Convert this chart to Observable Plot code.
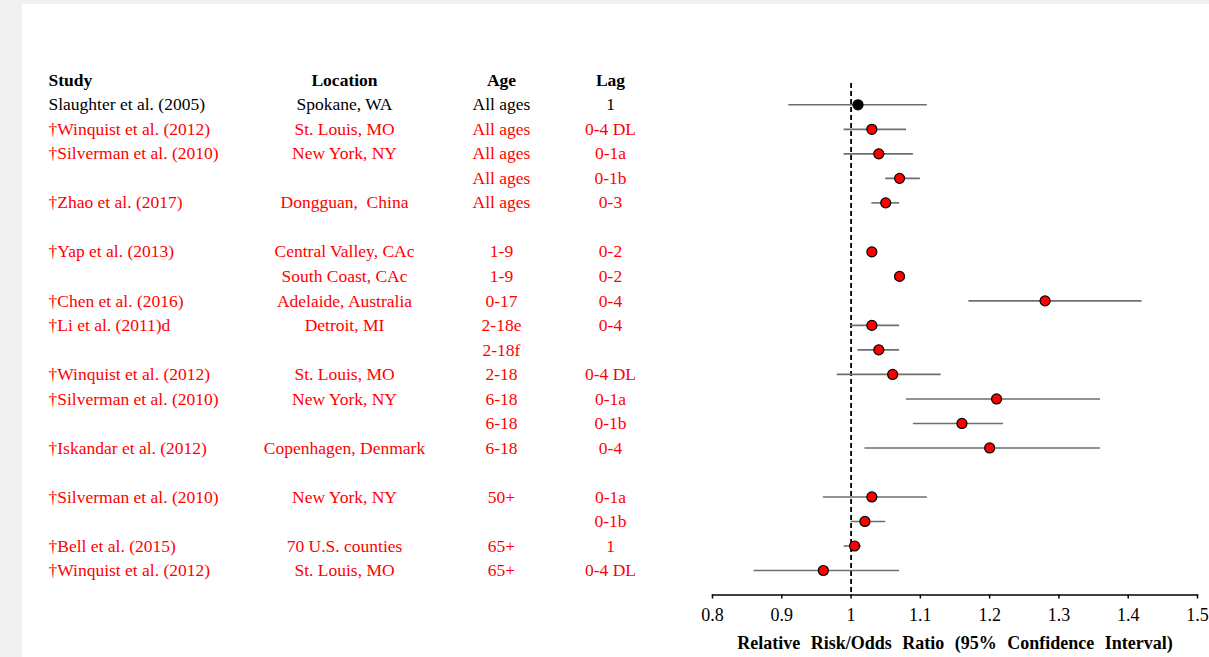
<!DOCTYPE html>
<html>
<head>
<meta charset="utf-8">
<script src="https://cdn.jsdelivr.net/npm/d3@7"></script>
<script src="https://cdn.jsdelivr.net/npm/@observablehq/plot@0.6"></script>
<style>
  html, body { margin: 0; padding: 0; background: #f0f0f0; }
  #wrap { padding-left: 22px; padding-top: 4px; width: 1187px; height: 653px; }
  #chart svg { background: #ffffff; display: block; }
  #chart svg .xlabel text { word-spacing: 6px; }
</style>
</head>
<body>
<div id="wrap"><div id="chart"></div></div>
<script>
// ---- data ----
const headers = ["Study", "Location", "Age", "Lag"];
const slots = [0, 1, 2, 3, 4, 6, 7, 8, 9, 10, 11, 12, 13, 14, 16, 17, 18, 19];
const groups = ["Original", "Added", "Added", "Added", "Added", "Added", "Added", "Added", "Added",
  "Added", "Added", "Added", "Added", "Added", "Added", "Added", "Added", "Added"];
const studies = ["Slaughter et al. (2005)", "†Winquist et al. (2012)", "†Silverman et al. (2010)", "",
  "†Zhao et al. (2017)", "†Yap et al. (2013)", "", "†Chen et al. (2016)", "†Li et al. (2011)d", "",
  "†Winquist et al. (2012)", "†Silverman et al. (2010)", "", "†Iskandar et al. (2012)",
  "†Silverman et al. (2010)", "", "†Bell et al. (2015)", "†Winquist et al. (2012)"];
const locations = ["Spokane, WA", "St. Louis, MO", "New York, NY", "", "Dongguan,  China",
  "Central Valley, CAc", "South Coast, CAc", "Adelaide, Australia", "Detroit, MI", "",
  "St. Louis, MO", "New York, NY", "", "Copenhagen, Denmark", "New York, NY", "",
  "70 U.S. counties", "St. Louis, MO"];
const ages = ["All ages", "All ages", "All ages", "All ages", "All ages", "1-9", "1-9", "0-17",
  "2-18e", "2-18f", "2-18", "6-18", "6-18", "6-18", "50+", "", "65+", "65+"];
const lags = ["1", "0-4 DL", "0-1a", "0-1b", "0-3", "0-2", "0-2", "0-4", "0-4", "", "0-4 DL",
  "0-1a", "0-1b", "0-4", "0-1a", "0-1b", "1", "0-4 DL"];
const estimates = [1.01, 1.03, 1.04, 1.07, 1.05, 1.03, 1.07, 1.28, 1.03, 1.04, 1.06, 1.21, 1.16,
  1.20, 1.03, 1.02, 1.005, 0.96];
const lowers = [0.91, 0.99, 0.99, 1.05, 1.03, null, null, 1.17, 1.00, 1.01, 0.98, 1.08, 1.09,
  1.02, 0.96, 1.00, 0.99, 0.86];
const uppers = [1.11, 1.08, 1.09, 1.10, 1.07, null, null, 1.42, 1.07, 1.07, 1.13, 1.36, 1.22,
  1.36, 1.11, 1.05, 1.015, 1.07];
const xTicks = [0.8, 0.9, 1, 1.1, 1.2, 1.3, 1.4, 1.5];
const xDomain = [0.8, 1.5];
const yDomain = [-0.87, 20];
const headerSlot = -1;
const referenceValue = 1;
const xLabel = "Relative Risk/Odds Ratio (95% Confidence Interval)";

// ---- table ----
const rows = slots.map((s, i) => ({
  slot: s, group: groups[i], study: studies[i], location: locations[i], age: ages[i], lag: lags[i],
  est: estimates[i], lo: lowers[i], hi: uppers[i]
}));
const ci = rows.filter(d => d.lo != null && d.hi != null);
const head = [{slot: headerSlot, study: headers[0], location: headers[1], age: headers[2], lag: headers[3]}];

const font = "'Liberation Serif', 'Times New Roman', serif";
const fs = 17.5;
const colorOpt = {domain: ["Original", "Added"], range: ["#000000", "#ff0000"]};

const cols = [
  {key: "study", dx: -664, anchor: "start"},
  {key: "location", dx: -368, anchor: "middle"},
  {key: "age", dx: -211, anchor: "middle"},
  {key: "lag", dx: -102, anchor: "middle"}
];

const marks = [];
for (const c of cols) {
  marks.push(Plot.text(rows, {
    y: "slot", text: c.key, frameAnchor: "left", dx: c.dx, textAnchor: c.anchor,
    fill: "group", fontSize: fs
  }));
  marks.push(Plot.text(head, {
    y: "slot", text: c.key, frameAnchor: "left", dx: c.dx, textAnchor: c.anchor,
    fill: "#000", fontSize: fs, fontWeight: "bold"
  }));
}
marks.push(
  Plot.ruleX([referenceValue], {stroke: "#000", strokeWidth: 1.8, strokeDasharray: "5,3"}),
  Plot.ruleY(ci, {y: "slot", x1: "lo", x2: "hi", stroke: "#6e6e6e", strokeWidth: 1.6}),
  Plot.dot(rows, {x: "est", y: "slot", r: 5, fill: "group", stroke: "#000", strokeWidth: 1.2}),
  Plot.frame({anchor: "bottom", stroke: "#000", strokeWidth: 1.5}),
  Plot.axisX({
    ticks: xTicks, tickSize: 4, tickPadding: 9, tickFormat: d => String(d),
    fontSize: 18, label: null, stroke: "#000", strokeWidth: 1.5
  }),
  Plot.text([xLabel], {
    frameAnchor: "bottom", dy: 48, fontWeight: "bold", fontSize: 18, fill: "#000",
    textAnchor: "middle", lineAnchor: "middle", className: "xlabel"
  })
);

const chart = Plot.plot({
  width: 1187,
  height: 653,
  marginLeft: 690,
  marginRight: 12,
  marginTop: 79,
  marginBottom: 62.5,
  style: {fontFamily: font, background: "#ffffff", color: "#000", overflow: "visible"},
  x: {domain: xDomain, axis: null},
  y: {domain: yDomain, reverse: true, axis: null},
  color: colorOpt,
  marks
});
document.getElementById("chart").appendChild(chart);
</script>
</body>
</html>
